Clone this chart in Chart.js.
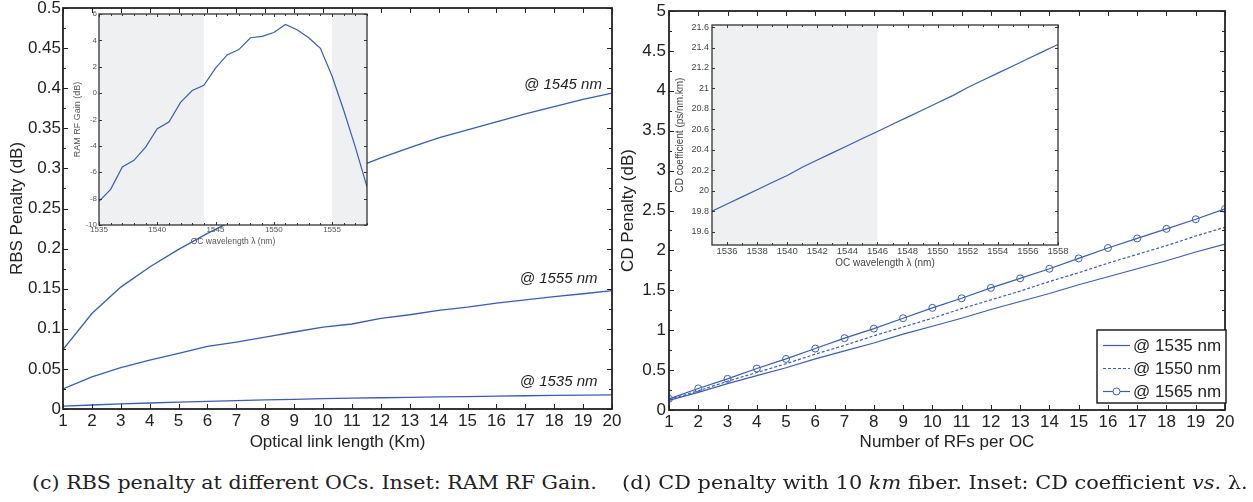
<!DOCTYPE html>
<html>
<head>
<meta charset="utf-8">
<script src="https://cdn.jsdelivr.net/npm/chart.js@4.4.1/dist/chart.umd.min.js"></script>
<style>
  body { margin: 0; background: #fff; width: 1253px; height: 502px; overflow: hidden; position: relative; }
  canvas { position: absolute; }
  .cap { position: absolute; font-family: 'DejaVu Serif', serif; font-size: 18px; line-height: 18px;
         white-space: nowrap; transform-origin: 0 50%; color: #222; }
</style>
</head>
<body>
<canvas id="rbs" width="630" height="460" style="left:0;top:0"></canvas>
<canvas id="gain" width="312" height="246" style="left:60px;top:6px"></canvas>
<canvas id="cd" width="643" height="460" style="left:610px;top:0"></canvas>
<canvas id="coef" width="410" height="254" style="left:660px;top:18px"></canvas>
<div class="cap" id="capC" style="left:32px;top:474px">(c) RBS penalty at different OCs. Inset: RAM RF Gain.</div>
<div class="cap" id="capD" style="left:622px;top:474px">(d) CD penalty with 10 <i>km</i> fiber. Inset: CD coefficient <i>vs.</i> λ.</div>
<script>
// panel (c): RBS penalty vs link length
const linkKm = [1, 2, 3, 4, 5, 6, 7, 8, 9, 10, 11, 12, 13, 14, 15, 16, 17, 18, 19, 20];
const rbs1545 = [0.074, 0.119, 0.152, 0.177, 0.199, 0.219, 0.237, 0.254, 0.270, 0.285,
                 0.299, 0.313, 0.326, 0.338, 0.348, 0.358, 0.368, 0.377, 0.386, 0.394];
const rbs1555 = [0.025, 0.040, 0.0515, 0.061, 0.0695, 0.078, 0.0835, 0.0895, 0.096, 0.102,
                 0.106, 0.113, 0.1175, 0.123, 0.127, 0.132, 0.136, 0.140, 0.1437, 0.1475];
const rbs1535 = [0.0035, 0.005, 0.0065, 0.0075, 0.0085, 0.0095, 0.0105, 0.0115, 0.012, 0.013,
                 0.0135, 0.014, 0.0145, 0.015, 0.0155, 0.016, 0.0165, 0.017, 0.0172, 0.0175];
const rbsYTicks = [0, 0.05, 0.1, 0.15, 0.2, 0.25, 0.3, 0.35, 0.4, 0.45, 0.5];

// inset (c): RAM RF gain vs wavelength
const gainWl = [1535, 1536, 1537, 1538, 1539, 1540, 1541, 1542, 1543, 1544, 1545, 1546,
                1547, 1548, 1549, 1550, 1551, 1552, 1553, 1554, 1555, 1556, 1557, 1558];
const ramGain = [-8.2, -7.3, -5.6, -5.1, -4.1, -2.7, -2.2, -0.7, 0.2, 0.6, 1.9, 2.9,
                 3.3, 4.2, 4.3, 4.6, 5.2, 4.8, 4.2, 3.4, 1.3, -1.3, -4.1, -7.1];
const gainXTicks = [1535, 1540, 1545, 1550, 1555];
const gainYTicks = [-10, -8, -6, -4, -2, 0, 2, 4, 6];
const gainShade = [[1535, 1544], [1555, 1558]];

// panel (d): CD penalty vs number of RFs
const rfCount = [1, 2, 3, 4, 5, 6, 7, 8, 9, 10, 11, 12, 13, 14, 15, 16, 17, 18, 19, 20];
const cd1535 = [0.12, 0.22, 0.33, 0.43, 0.53, 0.64, 0.74, 0.84, 0.95, 1.05,
                1.15, 1.26, 1.36, 1.46, 1.57, 1.67, 1.77, 1.87, 1.98, 2.08];
const cd1550 = [0.13, 0.24, 0.36, 0.47, 0.58, 0.70, 0.81, 0.93, 1.04, 1.15,
                1.27, 1.38, 1.49, 1.61, 1.72, 1.84, 1.95, 2.06, 2.18, 2.29];
const cd1565 = [0.14, 0.27, 0.39, 0.52, 0.64, 0.77, 0.90, 1.02, 1.15, 1.28,
                1.40, 1.53, 1.65, 1.77, 1.90, 2.03, 2.15, 2.27, 2.39, 2.52];
const cdYTicks = [0, 0.5, 1, 1.5, 2, 2.5, 3, 3.5, 4, 4.5, 5];

// inset (d): CD coefficient vs wavelength
const coefWl = [1535, 1536, 1537, 1538, 1539, 1540, 1541, 1542, 1543, 1544, 1545, 1546,
                1547, 1548, 1549, 1550, 1551, 1552, 1553, 1554, 1555, 1556, 1557, 1558];
const cdCoef = [19.80, 19.87, 19.94, 20.01, 20.08, 20.15, 20.23, 20.30, 20.37, 20.44, 20.51, 20.58,
                20.65, 20.72, 20.79, 20.86, 20.93, 21.01, 21.08, 21.15, 21.22, 21.29, 21.36, 21.43];
const coefXTicks = [1536, 1538, 1540, 1542, 1544, 1546, 1548, 1550, 1552, 1554, 1556, 1558];
const coefYTicks = [19.6, 19.8, 20, 20.2, 20.4, 20.6, 20.8, 21, 21.2, 21.4, 21.6];
const coefShade = [[1535, 1546]];

const BLUE = '#3a5cb4';
Chart.defaults.font.family = "'Liberation Sans', Arial, sans-serif";
Chart.defaults.animation = false;

const pts = (xs, ys) => xs.map((x, i) => ({x: x, y: ys[i]}));
const fmt = v => String(+(+v).toFixed(3));

function fixAxis(size, horizontal) {
  return s => {
    if (horizontal) s.height = size; else s.width = size;
    s.paddingLeft = s.paddingRight = s.paddingTop = s.paddingBottom = 0;
  };
}
function useTicks(vals) {
  return s => { s.ticks = vals.map(v => ({value: v})); };
}

function axes(o) {
  const common = {
    type: 'linear',
    grid: {display: false, drawTicks: false},
    border: {display: false}
  };
  return {
    x: Object.assign({}, common, {
      min: o.xMin, max: o.xMax,
      afterBuildTicks: useTicks(o.xTicks),
      afterFit: fixAxis(o.xH, true),
      ticks: {padding: o.xPad, color: o.color, font: {size: o.tickSize}, callback: fmt, maxRotation: 0, autoSkip: false},
      title: {display: true, text: o.xTitle, color: o.color, font: {size: o.xTitleSize}, padding: {top: 0, bottom: o.xTitlePad}}
    }),
    y: Object.assign({}, common, {
      min: o.yMin, max: o.yMax,
      afterBuildTicks: useTicks(o.yTicks),
      afterFit: fixAxis(o.yW, false),
      ticks: {padding: o.yPad, color: o.color, font: {size: o.yTickSize || o.tickSize}, callback: fmt, autoSkip: false},
      title: {display: true, text: o.yTitle, color: o.color, font: {size: o.yTitleSize}, padding: {top: o.yTitlePad, bottom: 0}}
    })
  };
}

// box frame with inward ticks on all four sides
const frameTicks = {
  id: 'frameTicks',
  afterDatasetsDraw(chart, args, o) {
    const {ctx, chartArea: a, scales: {x, y}} = chart;
    const seg = (x1, y1, x2, y2) => { ctx.beginPath(); ctx.moveTo(x1, y1); ctx.lineTo(x2, y2); ctx.stroke(); };
    const minors = (ticks, sub, max) => {
      const out = [];
      if (sub < 2) return out;
      const step = (ticks[1].value - ticks[0].value) / sub;
      for (let v = ticks[0].value; v <= max + 1e-9; v += step) out.push(v);
      return out;
    };
    ctx.save();
    ctx.strokeStyle = o.color;
    ctx.lineWidth = 1;
    const doX = (vals, len) => vals.forEach(v => {
      const p = Math.round(x.getPixelForValue(v)) + 0.5;
      seg(p, a.bottom, p, a.bottom - len);
      seg(p, a.top, p, a.top + len);
    });
    const doY = (vals, len) => vals.forEach(v => {
      const p = Math.round(y.getPixelForValue(v)) + 0.5;
      seg(a.left, p, a.left + len, p);
      seg(a.right, p, a.right - len, p);
    });
    doX(x.ticks.map(t => t.value), o.major);
    doY(y.ticks.map(t => t.value), o.major);
    doX(minors(x.ticks, o.xSub || 1, x.max), o.minor);
    doY(minors(y.ticks, o.ySub || 1, y.max), o.minor);
    ctx.lineWidth = o.width;
    ctx.strokeRect(a.left, a.top, a.width, a.height);
    ctx.restore();
  }
};

// white plot area with grey bands (insets)
const shade = {
  id: 'shade',
  beforeDatasetsDraw(chart, args, o) {
    const {ctx, chartArea: a, scales: {x}} = chart;
    ctx.save();
    ctx.fillStyle = '#fff';
    ctx.fillRect(a.left, a.top, a.width, a.height);
    ctx.fillStyle = o.color;
    o.bands.forEach(b => {
      const x1 = x.getPixelForValue(b[0]), x2 = x.getPixelForValue(b[1]);
      ctx.fillRect(x1, a.top, x2 - x1, a.height);
    });
    ctx.restore();
  }
};

// curve annotations
const curveLabels = {
  id: 'curveLabels',
  afterDatasetsDraw(chart, args, o) {
    const {ctx, scales: {x, y}} = chart;
    ctx.save();
    ctx.font = o.font;
    ctx.fillStyle = o.color;
    ctx.textAlign = 'right';
    ctx.textBaseline = 'middle';
    o.items.forEach(it => ctx.fillText(it.text, x.getPixelForValue(it.x), y.getPixelForValue(it.y)));
    ctx.restore();
  }
};

// boxed legend in the lower right of the plot area
const boxLegend = {
  id: 'boxLegend',
  afterDraw(chart, args, o) {
    const {ctx, chartArea: a} = chart;
    const left = a.right - o.w + 1, top = a.bottom - o.gap - o.h;
    ctx.save();
    ctx.fillStyle = '#fff';
    ctx.fillRect(left, top, o.w, o.h);
    ctx.strokeStyle = o.frame;
    ctx.lineWidth = 1.5;
    ctx.strokeRect(left, top, o.w, o.h);
    ctx.font = o.font;
    ctx.textBaseline = 'middle';
    chart.data.datasets.forEach((ds, i) => {
      const cy = Math.round(top + o.rowTop + i * o.rowGap) + 0.5;
      ctx.strokeStyle = ds.borderColor;
      ctx.lineWidth = ds.borderWidth;
      ctx.setLineDash(ds.borderDash || []);
      ctx.beginPath();
      ctx.moveTo(left + 6, cy);
      ctx.lineTo(left + 33, cy);
      ctx.stroke();
      ctx.setLineDash([]);
      if (ds.pointRadius > 0) {
        ctx.lineWidth = 1;
        ctx.fillStyle = '#fff';
        ctx.beginPath();
        ctx.arc(left + 19.5, cy, ds.pointRadius, 0, Math.PI * 2);
        ctx.fill();
        ctx.stroke();
      }
      ctx.fillStyle = o.color;
      ctx.fillText(ds.label, left + 36, cy + 1);
    });
    ctx.restore();
  }
};

const plain = {borderColor: BLUE, borderWidth: 1.3, pointRadius: 0, tension: 0, fill: false};
const mainFrame = {color: '#222', width: 1.8, major: 5, minor: 3};
const insetFrame = {color: '#333', width: 1.3, major: 3, minor: 2};

new Chart(document.getElementById('rbs'), {
  type: 'line',
  data: {
    datasets: [
      Object.assign({label: '@ 1545 nm', data: pts(linkKm, rbs1545)}, plain),
      Object.assign({label: '@ 1555 nm', data: pts(linkKm, rbs1555)}, plain),
      Object.assign({label: '@ 1535 nm', data: pts(linkKm, rbs1535)}, plain)
    ]
  },
  options: {
    responsive: false,
    layout: {padding: {top: 8, right: 18, left: 0, bottom: 0}},
    scales: axes({
      xMin: 1, xMax: 20, xTicks: linkKm, xH: 51, xPad: 2, xTitle: 'Optical link length (Km)', xTitleSize: 17, xTitlePad: 7,
      yMin: 0, yMax: 0.5, yTicks: rbsYTicks, yW: 63, yPad: 2, yTitle: 'RBS Penalty (dB)', yTitleSize: 17, yTitlePad: 7,
      tickSize: 17, color: '#222'
    }),
    plugins: {
      legend: {display: false}, tooltip: {enabled: false},
      frameTicks: Object.assign({ySub: 2}, mainFrame),
      curveLabels: {
        font: 'italic 15px "Liberation Sans", Arial, sans-serif', color: '#222',
        items: [
          {text: '@ 1545 nm', x: 19.65, y: 0.4045},
          {text: '@ 1555 nm', x: 19.5, y: 0.162},
          {text: '@ 1535 nm', x: 19.5, y: 0.0337}
        ]
      }
    }
  },
  plugins: [frameTicks, curveLabels]
});

new Chart(document.getElementById('gain'), {
  type: 'line',
  data: {datasets: [Object.assign({label: 'RAM RF Gain', data: pts(gainWl, ramGain)}, plain, {borderWidth: 1.2})]},
  options: {
    responsive: false,
    layout: {padding: {top: 8, right: 5, left: 0, bottom: 0}},
    scales: axes({
      xMin: 1535, xMax: 1558, xTicks: gainXTicks, xH: 27, xPad: 0, xTitle: 'OC wavelength λ (nm)', xTitleSize: 8.5, xTitlePad: 5,
      yMin: -10, yMax: 6, yTicks: gainYTicks, yW: 39, yPad: 2, yTitle: 'RAM RF Gain (dB)', yTitleSize: 9, yTitlePad: 12,
      tickSize: 8, color: '#555'
    }),
    plugins: {
      legend: {display: false}, tooltip: {enabled: false},
      shade: {color: '#eff0f2', bands: gainShade},
      frameTicks: Object.assign({xSub: 5}, insetFrame)
    }
  },
  plugins: [shade, frameTicks]
});

new Chart(document.getElementById('cd'), {
  type: 'line',
  data: {
    datasets: [
      Object.assign({label: '@ 1535 nm', data: pts(rfCount, cd1535)}, plain, {borderWidth: 1.2}),
      Object.assign({label: '@ 1550 nm', data: pts(rfCount, cd1550)}, plain, {borderWidth: 1.2, borderDash: [3, 2]}),
      Object.assign({label: '@ 1565 nm', data: pts(rfCount, cd1565)}, plain, {
        borderWidth: 1.2, pointRadius: 3.5, pointStyle: 'circle', pointBorderColor: BLUE,
        pointBackgroundColor: 'rgba(255,255,255,0)', pointBorderWidth: 1
      })
    ]
  },
  options: {
    responsive: false,
    layout: {padding: {top: 11, right: 28, left: 0, bottom: 0}},
    scales: axes({
      xMin: 1, xMax: 20, xTicks: rfCount, xH: 50, xPad: 2, xTitle: 'Number of RFs per OC', xTitleSize: 17, xTitlePad: 7,
      yMin: 0, yMax: 5, yTicks: cdYTicks, yW: 59, yPad: 3, yTitle: 'CD Penalty (dB)', yTitleSize: 17, yTitlePad: 8,
      tickSize: 17, color: '#222'
    }),
    plugins: {
      legend: {display: false}, tooltip: {enabled: false},
      frameTicks: Object.assign({ySub: 2}, mainFrame),
      boxLegend: {w: 129, h: 73, gap: 7, rowTop: 15, rowGap: 23, frame: '#222', color: '#222',
                  font: '17px "Liberation Sans", Arial, sans-serif'}
    }
  },
  plugins: [frameTicks, boxLegend]
});

new Chart(document.getElementById('coef'), {
  type: 'line',
  data: {datasets: [Object.assign({label: 'CD coefficient', data: pts(coefWl, cdCoef)}, plain, {borderWidth: 1.2})]},
  options: {
    responsive: false,
    layout: {padding: {top: 7, right: 12, left: 0, bottom: 0}},
    scales: axes({
      xMin: 1535, xMax: 1558, xTicks: coefXTicks, xH: 27, xPad: 1, xTitle: 'OC wavelength λ (nm)', xTitleSize: 10, xTitlePad: 3,
      yMin: 19.47, yMax: 21.62, yTicks: coefYTicks, yW: 52, yPad: 3, yTitle: 'CD coefficient (ps/nm.km)', yTitleSize: 10, yTitlePad: 14,
      tickSize: 9.5, yTickSize: 9, color: '#444'
    }),
    plugins: {
      legend: {display: false}, tooltip: {enabled: false},
      shade: {color: '#eff0f2', bands: coefShade},
      frameTicks: Object.assign({xSub: 2}, insetFrame)
    }
  },
  plugins: [shade, frameTicks]
});

// stretch captions to the printed widths
[['capC', 565], ['capD', 626]].forEach(([id, w]) => {
  const el = document.getElementById(id);
  el.style.transform = 'scaleX(' + (w / el.offsetWidth) + ')';
});
</script>
</body>
</html>
